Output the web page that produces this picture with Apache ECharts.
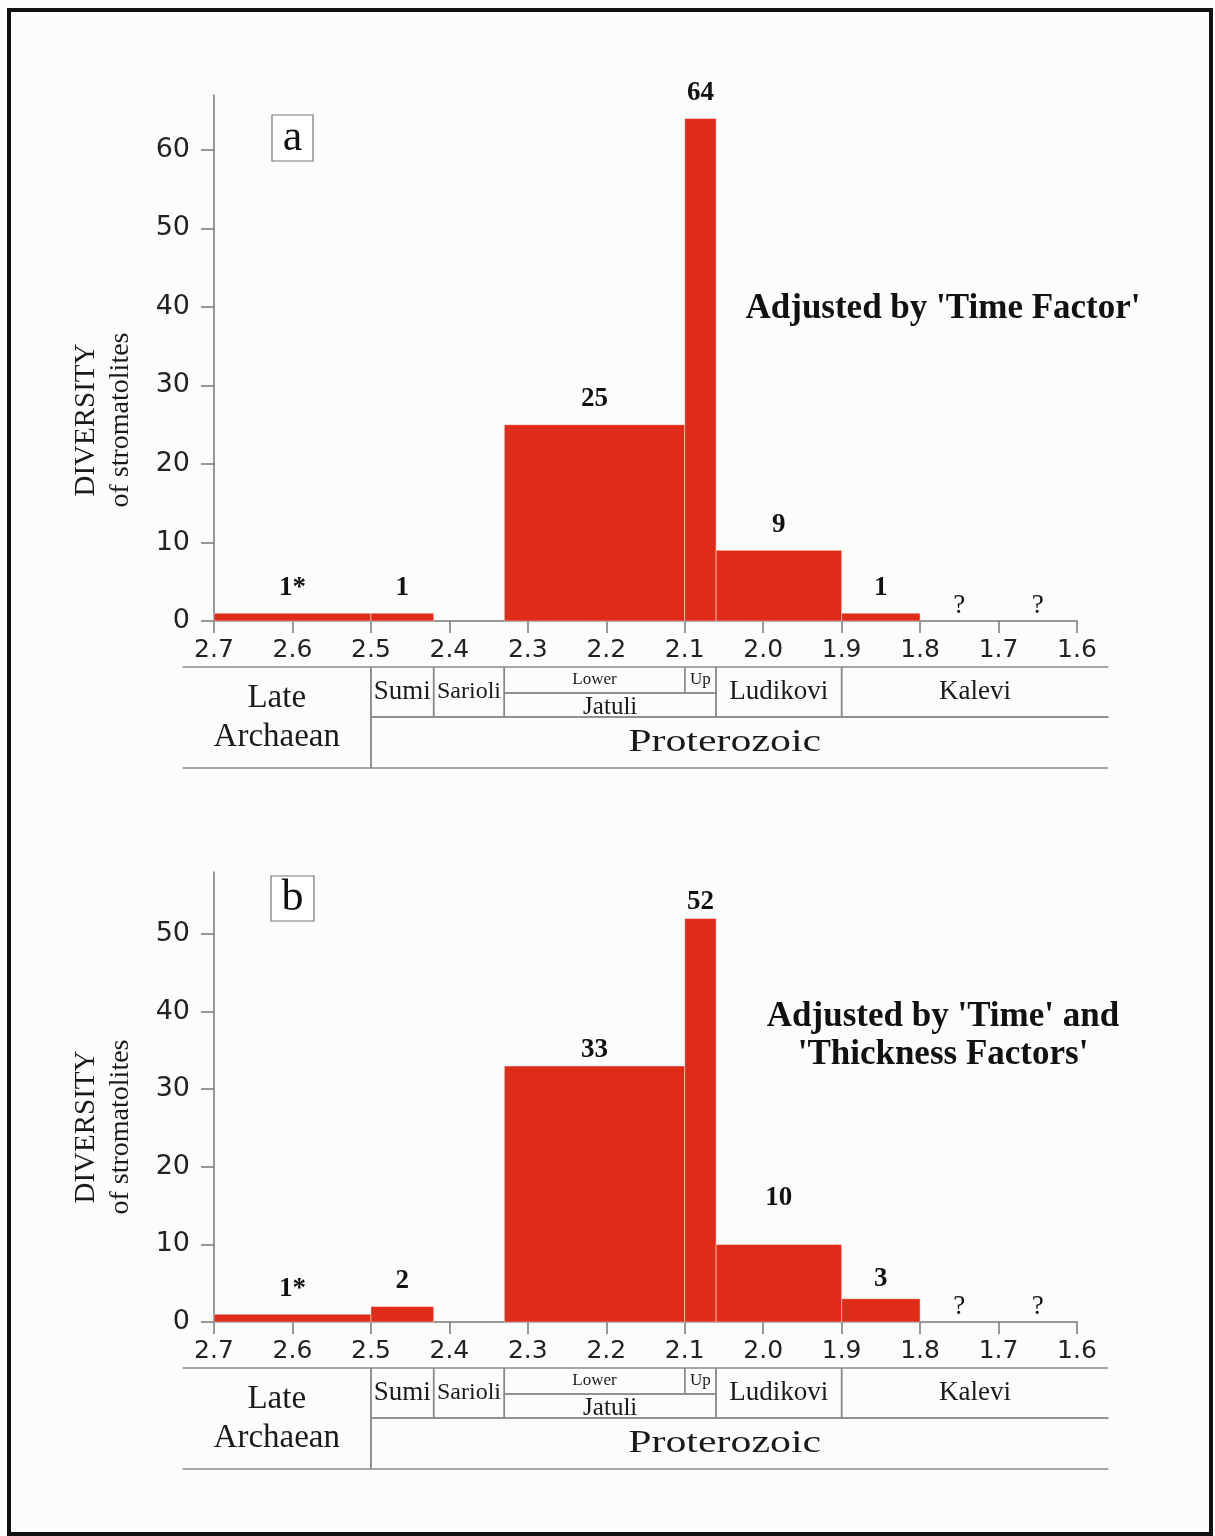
<!DOCTYPE html>
<html>
<head>
<meta charset="utf-8">
<title>Stromatolite diversity</title>
<script src="https://cdn.jsdelivr.net/npm/echarts@6/dist/echarts.min.js"></script>
<style>
  html, body { margin: 0; padding: 0; background: #fbfcfc; }
  #chart { width: 1215px; height: 1536px; }
</style>
</head>
<body>
<div id="chart"></div>
<script>
// age bins in Ga, oldest first
var binStart = [2.7, 2.5, 2.33, 2.1, 2.06, 1.9, 1.8, 1.7]
var binEnd = [2.5, 2.42, 2.1, 2.06, 1.9, 1.8, 1.7, 1.6]

// a: adjusted by time factor
var valuesA = [1, 1, 25, 64, 9, 1, 0, 0]
var labelsA = ['1*', '1', '25', '64', '9', '1', '?', '?']
// b: adjusted by time and thickness factors
var valuesB = [1, 2, 33, 52, 10, 3, 0, 0]
var labelsB = ['1*', '2', '33', '52', '10', '3', '?', '?']

var xTicks = [2.7, 2.6, 2.5, 2.4, 2.3, 2.2, 2.1, 2.0, 1.9, 1.8, 1.7, 1.6]
var yTicksA = [0, 10, 20, 30, 40, 50, 60]
var yTicksB = [0, 10, 20, 30, 40, 50]

// stratigraphic units under the axis
var unitNames = ['Late\nArchaean', 'Sumi', 'Sarioli', 'Lower', 'Up', 'Jatuli', 'Ludikovi', 'Kalevi', 'Proterozoic']
var unitStart = [2.74, 2.5, 2.42, 2.33, 2.1, 2.33, 2.06, 1.9, 2.5]
var unitEnd = [2.5, 2.42, 2.33, 2.1, 2.06, 2.06, 1.9, 1.56, 1.56]
var tableStart = 2.74
var tableEnd = 1.56

// layout / style bits
var barColor = '#de2c18'
var lineColor = '#8a8a8a'
var bandOffset = { top: 46, mid: 72, row: 96, bottom: 147 }
var unitBands = [['top', 'bottom'], ['top', 'row'], ['top', 'row'], ['top', 'mid'], ['top', 'mid'],
  ['mid', 'row'], ['top', 'row'], ['top', 'row'], ['row', 'bottom']]
var unitFont = [33, 27, 24, 17, 17, 25, 27, 27, 31]
var unitDy = [0, 0, 0, 0, 0, 2, 0, 0, 0]
// small nudges of the value labels (px, + = down), panel b was lettered by hand
var shiftA = [0, 0, 0, 0, 0, 0, 0, 0]
var shiftB = [0, 0, 10, 9, -21, 6, 0, 0]

function barRenderer(labels, shift) {
  return function(params, api) {
    var i = params.dataIndex
    var v = api.value(3)
    var p0 = api.coord([api.value(0), v])
    var p1 = api.coord([api.value(2), 0])
    var x0 = Math.min(p0[0], p1[0])
    var x1 = Math.max(p0[0], p1[0])
    var children = []
    if (v > 0) {
      children.push({
        type: 'rect',
        shape: { x: x0, y: p0[1], width: x1 - x0, height: p1[1] - p0[1] },
        style: { fill: barColor, stroke: 'rgba(255,255,255,0.45)', lineWidth: 1 }
      })
    }
    var isQ = labels[i] === '?'
    children.push({
      type: 'text',
      style: {
        text: labels[i],
        x: (x0 + x1) / 2,
        y: p0[1] - (isQ ? 2 : 12) + shift[i],
        align: 'center',
        verticalAlign: 'bottom',
        fontFamily: 'Liberation Serif',
        fontSize: 27,
        fontWeight: isQ ? 'normal' : 'bold',
        fill: '#111'
      }
    })
    return { type: 'group', children: children }
  }
}

function tableRenderer(params, api) {
  var i = params.dataIndex
  var y0 = api.coord([2.7, 0])[1]
  var xa = api.coord([unitStart[i], 0])[0]
  var xb = api.coord([unitEnd[i], 0])[0]
  var ya = y0 + bandOffset[unitBands[i][0]]
  var yb = y0 + bandOffset[unitBands[i][1]]
  var segs = [[xa, ya, xb, ya], [xa, yb, xb, yb]]
  if (unitStart[i] !== tableStart) segs.push([xa, ya, xa, yb])
  if (unitEnd[i] !== tableEnd) segs.push([xb, ya, xb, yb])
  var children = segs.map(function(s) {
    return {
      type: 'line',
      shape: { x1: s[0], y1: s[1], x2: s[2], y2: s[3] },
      style: { stroke: lineColor, lineWidth: 1.5 }
    }
  })
  var isEon = unitNames[i] === 'Proterozoic'
  children.push({
    type: 'text',
    x: (xa + xb) / 2 - (isEon ? 15 : 0),
    y: (ya + yb) / 2 + unitDy[i],
    scaleX: isEon ? 1.35 : 1,
    style: {
      text: unitNames[i],
      x: 0,
      y: 0,
      align: 'center',
      verticalAlign: 'middle',
      fontFamily: 'Liberation Serif',
      fontSize: unitFont[i],
      lineHeight: 39,
      fill: '#1a1a1a'
    }
  })
  return { type: 'group', children: children }
}

function xAxisCfg(idx) {
  return {
    type: 'value',
    gridIndex: idx,
    min: 1.6,
    max: 2.7,
    inverse: true,
    axisLine: { lineStyle: { color: '#777', width: 1.5 } },
    axisTick: { length: 12, customValues: xTicks, lineStyle: { color: '#777', width: 1.5 } },
    axisLabel: {
      customValues: xTicks,
      margin: 17,
      formatter: function(v) { return v.toFixed(1) },
      fontFamily: 'DejaVu Sans',
      fontSize: 25,
      color: '#222'
    },
    splitLine: { show: false }
  }
}

function yAxisCfg(idx, max, ticks) {
  return {
    type: 'value',
    gridIndex: idx,
    min: 0,
    max: max,
    axisLine: { show: true, lineStyle: { color: '#777', width: 1.5 } },
    axisTick: { show: true, length: 13, customValues: ticks, lineStyle: { color: '#777', width: 1.5 } },
    axisLabel: {
      customValues: ticks,
      margin: 24,
      fontFamily: 'DejaVu Sans',
      fontSize: 27,
      color: '#222'
    },
    splitLine: { show: false }
  }
}

function barData(values) {
  return binStart.map(function(s, i) { return [s, 0, binEnd[i], values[i]] })
}

var tableData = unitStart.map(function(s, i) { return [s, 0, unitEnd[i], 0] })

function panelText(x, y, lines, size) {
  return {
    type: 'text',
    x: x,
    y: y,
    style: {
      text: lines,
      align: 'center',
      verticalAlign: 'middle',
      fontFamily: 'Liberation Serif',
      fontWeight: 'bold',
      fontSize: size,
      lineHeight: 38,
      fill: '#111'
    }
  }
}

function yName(cy) {
  return [{
    type: 'text', x: 86, y: cy, rotation: Math.PI / 2,
    style: { text: 'DIVERSITY', align: 'center', verticalAlign: 'middle',
      fontFamily: 'Liberation Serif', fontSize: 29, fill: '#1a1a1a' }
  }, {
    type: 'text', x: 121, y: cy, rotation: Math.PI / 2,
    style: { text: 'of stromatolites', align: 'center', verticalAlign: 'middle',
      fontFamily: 'Liberation Serif', fontSize: 28, fill: '#1a1a1a' }
  }]
}

function letterBox(x, y, w, h, letter) {
  return [{
    type: 'rect', shape: { x: x, y: y, width: w, height: h },
    style: { fill: '#fff', stroke: '#777', lineWidth: 1.2 }
  }, {
    type: 'text', x: x + w / 2, y: y + h / 2,
    style: { text: letter, align: 'center', verticalAlign: 'middle',
      fontFamily: 'Liberation Serif', fontSize: 44, fill: '#111' }
  }]
}

var chart = echarts.init(document.getElementById('chart'))

var option = {
  backgroundColor: '#fbfcfc',
  animation: false,
  grid: [
    { left: 214, top: 95, width: 863, height: 526 },
    { left: 214, top: 872, width: 863, height: 450 }
  ],
  xAxis: [xAxisCfg(0), xAxisCfg(1)],
  yAxis: [yAxisCfg(0, 67, yTicksA), yAxisCfg(1, 58, yTicksB)],
  series: [
    {
      type: 'custom', xAxisIndex: 0, yAxisIndex: 0, clip: false,
      encode: { x: [0, 2], y: [1, 3] },
      renderItem: barRenderer(labelsA, shiftA), data: barData(valuesA)
    },
    {
      type: 'custom', xAxisIndex: 0, yAxisIndex: 0, clip: false,
      encode: { x: [0, 2], y: 1 },
      renderItem: tableRenderer, data: tableData
    },
    {
      type: 'custom', xAxisIndex: 1, yAxisIndex: 1, clip: false,
      encode: { x: [0, 2], y: [1, 3] },
      renderItem: barRenderer(labelsB, shiftB), data: barData(valuesB)
    },
    {
      type: 'custom', xAxisIndex: 1, yAxisIndex: 1, clip: false,
      encode: { x: [0, 2], y: 1 },
      renderItem: tableRenderer, data: tableData
    }
  ],
  graphic: [].concat(
    letterBox(272, 115, 41, 46, 'a'),
    letterBox(271, 876, 43, 45, 'b'),
    yName(420),
    yName(1127),
    [
      panelText(943, 309, "Adjusted by 'Time Factor'", 35),
      panelText(943, 1036, "Adjusted by 'Time' and\n'Thickness Factors'", 35),
      {
        type: 'rect', z: 100,
        shape: { x: 9, y: 10, width: 1202, height: 1524 },
        style: { fill: null, stroke: '#111', lineWidth: 4 }
      }
    ]
  )
}

chart.setOption(option)
</script>
</body>
</html>
